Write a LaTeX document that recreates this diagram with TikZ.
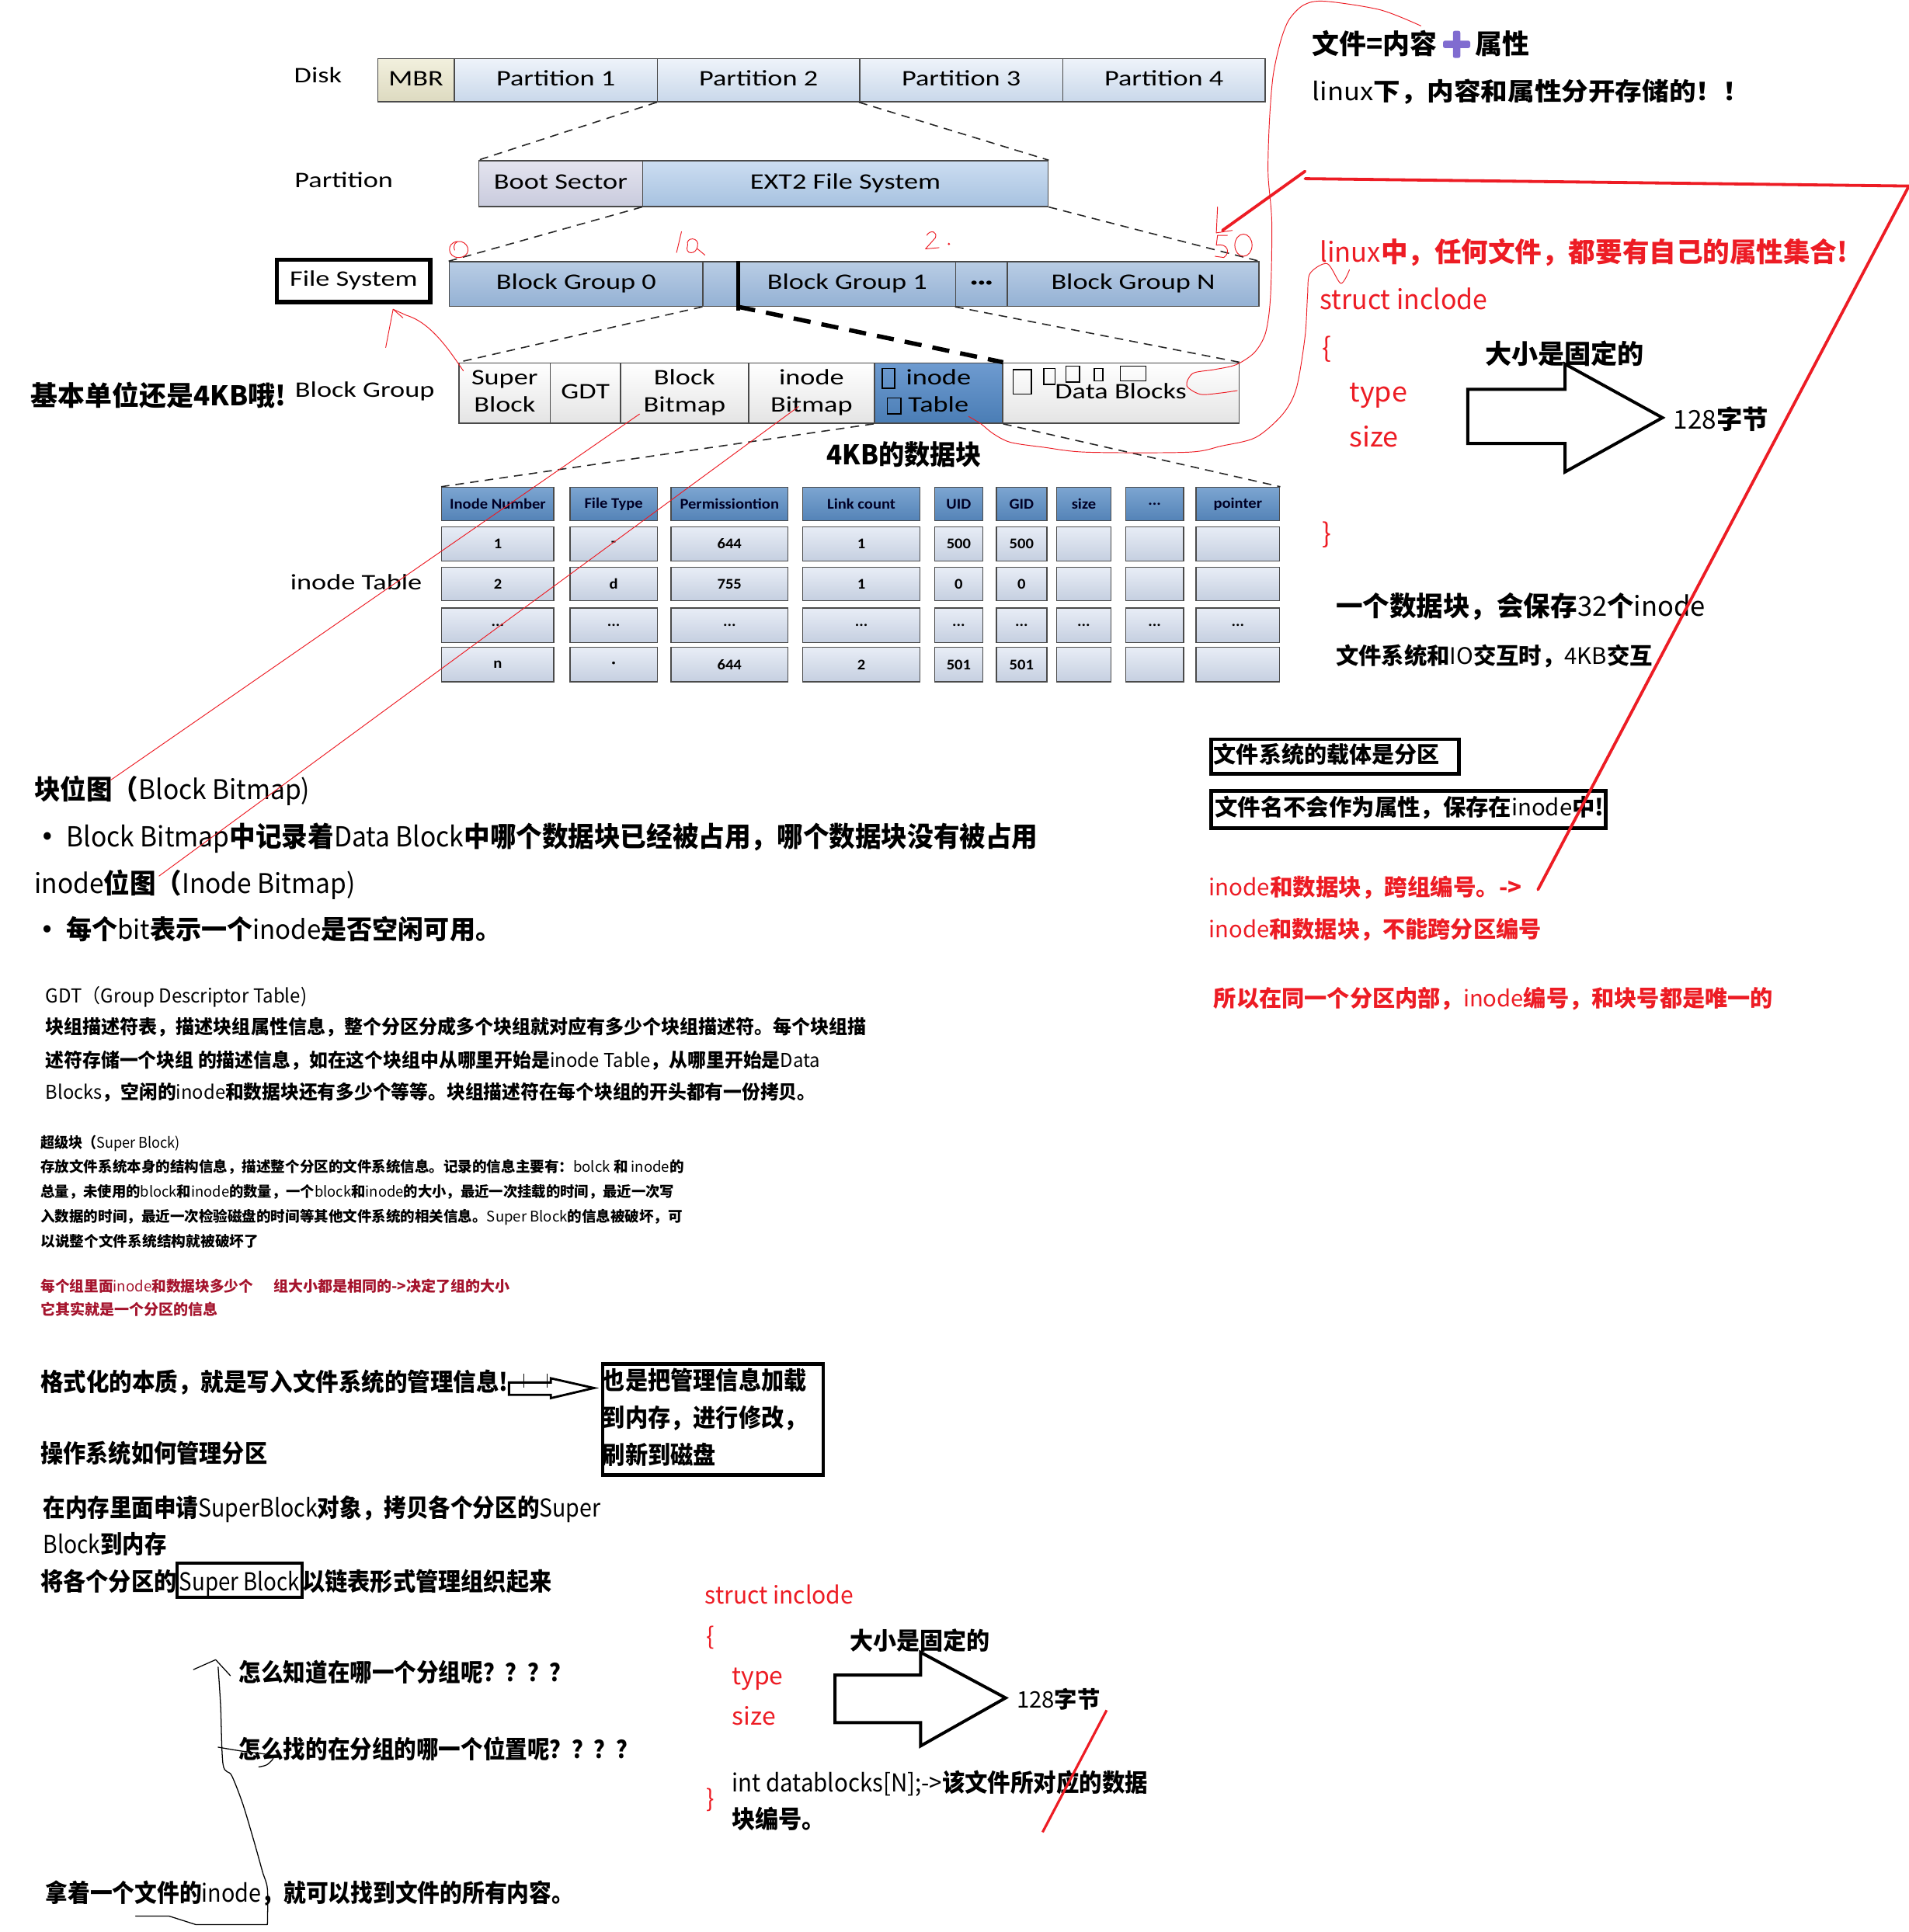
\documentclass[tikz,border=0pt]{standalone}
\usepackage{fontspec}
\usepackage{graphicx}
\setmainfont{Noto Sans CJK SC}
\newfontfamily\dg{Carlito}
\usetikzlibrary{shadings}
\definecolor{rd}{RGB}{237,28,36}
\definecolor{drd}{RGB}{165,20,45}
\definecolor{bd}{HTML}{4A4A4A}
\definecolor{dkT}{HTML}{EEF3FA}\definecolor{dkB}{HTML}{C9D8EA}
\definecolor{mbT}{HTML}{F2F0DE}\definecolor{mbB}{HTML}{DDDAC0}
\definecolor{btT}{HTML}{E4E4EF}\definecolor{btB}{HTML}{C9CBDD}
\definecolor{exT}{HTML}{CCDDF1}\definecolor{exB}{HTML}{A7C2E0}
\definecolor{bgT}{HTML}{B9CDE5}\definecolor{bgB}{HTML}{94B1D4}
\definecolor{dtT}{HTML}{FFFFFF}\definecolor{dtB}{HTML}{E4E4E4}
\definecolor{itT}{HTML}{6E9BD0}\definecolor{itB}{HTML}{4A7DB5}
\definecolor{hdT}{HTML}{7CA5D1}\definecolor{hdB}{HTML}{5483B7}
\definecolor{ceT}{HTML}{E8EDF6}\definecolor{ceB}{HTML}{C5CFE0}
\definecolor{plc}{RGB}{128,108,208}
\newcommand\Tb[3]{\scalebox{#2}[1]{\fontsize{#1}{#1}\selectfont\bfseries #3}}
\newcommand\Tr[3]{\scalebox{#2}[1]{\fontsize{#1}{#1}\selectfont #3}}
\newcommand\Lt[1]{{\mdseries #1}}
\newcommand\dgf{\dg\fontsize{18}{22}\selectfont}
\newcommand\dl[1]{\scalebox{1.27}[1]{\begin{tabular}{@{}c@{}}#1\end{tabular}}}
\newcommand\tbf{\dg\bfseries\fontsize{12}{14}\selectfont}
\newcommand\tl[1]{\scalebox{1.08}[1]{#1}}
\newcommand\dotsx{...}
\begin{document}
\begin{tikzpicture}[x=1pt,y=-1pt,
  tx/.style={anchor=base west,inner sep=0pt,outer sep=0pt},
  dbox/.style={draw=bd,line width=1pt,anchor=north west,inner sep=0pt,font=\dgf},
  dline/.style={dash pattern=on 7pt off 5pt,line width=1pt,black!85},
  hand/.style={rd,line width=0.6pt,line cap=round,line join=round},
  bigred/.style={rd,line width=2.4pt,line cap=round,line join=round},
  bhand/.style={black,line width=0.8pt,line cap=round,line join=round},
  hcell/.style={draw=bd,line width=0.9pt,anchor=north west,inner sep=0pt,top color=hdT,bottom color=hdB,font=\tbf,text=black!85!blue},
  ccell/.style={draw=bd,line width=0.9pt,anchor=north west,inner sep=0pt,top color=ceT,bottom color=ceB,font=\tbf},
  bigarrow/.style={draw=black,line width=2.5pt,line join=miter}]
\useasboundingbox (0,0) rectangle (1549,1568);
\fill[white] (0,0) rectangle (1549,1568);

% ---------- Disk row
\node[font=\dgf] (disk) at (258,63) {\dl{Disk}};
\node[dbox,top color=mbT,bottom color=mbB,minimum width=62,minimum height=35] (mbr) at (306,47) {\dl{MBR}};
\node[dbox,top color=dkT,bottom color=dkB,minimum width=165,minimum height=35] (p1) at (368,47) {\dl{Partition 1}};
\node[dbox,top color=dkT,bottom color=dkB,minimum width=164,minimum height=35] (p2) at (533,47) {\dl{Partition 2}};
\node[dbox,top color=dkT,bottom color=dkB,minimum width=165,minimum height=35] (p3) at (697,47) {\dl{Partition 3}};
\node[dbox,top color=dkT,bottom color=dkB,minimum width=164,minimum height=35] (p4) at (862,47) {\dl{Partition 4}};

% ---------- Partition row
\node[font=\dgf] (partl) at (279,148) {\dl{Partition}};
\node[dbox,top color=btT,bottom color=btB,minimum width=133,minimum height=37] (boot) at (388,130) {\dl{Boot Sector}};
\node[dbox,top color=exT,bottom color=exB,minimum width=329,minimum height=37] (ext2) at (521,130) {\dl{EXT2 File System}};
\draw[dline] (p2.south west) -- (boot.north west);
\draw[dline] (p3.south west) -- (ext2.north east);

% ---------- File system row
\node[draw=black,line width=3.5pt,minimum width=124.5,minimum height=34.5,inner sep=0pt,font=\dgf] (fs) at (287,228) {\dl{File System}};
\node[dbox,top color=bgT,bottom color=bgB,minimum width=206,minimum height=36] (bg0) at (364,212) {\dl{Block Group 0}};
\node[dbox,top color=bgT,bottom color=bgB,minimum width=29,minimum height=36] (bgap) at (570,212) {};
\node[dbox,top color=bgT,bottom color=bgB,minimum width=176,minimum height=36] (bg1) at (599,212) {\dl{Block Group 1}\hspace{31pt}};
\node[dbox,top color=bgT,bottom color=bgB,minimum width=42,minimum height=36] (bgd) at (775,212) {\dl{\bfseries ···}};
\node[dbox,top color=bgT,bottom color=bgB,minimum width=204,minimum height=36] (bgn) at (817,212) {\dl{Block Group N}};
\draw[dline] (ext2.south west) -- (bg0.north west);
\draw[dline] (ext2.south east) -- (bgn.north east);
\draw[black,line width=2.6pt] (bg1.north west) -- ([yshift=-3pt]bg1.south west);

% ---------- Block group row
\node[font=\dgf] (bgl) at (296,318) {\dl{Block Group}};
\node[dbox,top color=dtT,bottom color=dtB,minimum width=74,minimum height=49] (sb) at (372,294) {\dl{Super\\Block}};
\node[dbox,top color=dtT,bottom color=dtB,minimum width=57,minimum height=49] (gdt) at (446,294) {\dl{GDT}};
\node[dbox,top color=dtT,bottom color=dtB,minimum width=104,minimum height=49] (bbm) at (503,294) {\dl{Block\\Bitmap}};
\node[dbox,top color=dtT,bottom color=dtB,minimum width=102,minimum height=49] (ibm) at (607,294) {\dl{inode\\Bitmap}};
\node[dbox,top color=itT,bottom color=itB,minimum width=104,minimum height=49] (itab) at (709,294) {\dl{inode\\Table}};
\node[dbox,top color=dtT,bottom color=dtB,minimum width=192,minimum height=49] (data) at (813,294) {\raisebox{-4pt}{\dl{Data Blocks}}};
\draw[dline] (bgap.south west) -- (sb.north west);
\draw[dline] (bgd.south west) -- (data.north east);
\draw[black,line width=3.5pt,dash pattern=on 14pt off 9pt] (bg1.south west) -- (itab.north east);
\begin{scope}[black,line width=0.9pt]
\draw (716,299) rectangle (726,315);
\draw (720,323) rectangle (731,336);
\draw (822,300) rectangle (837,320);
\draw (847,299) rectangle (856,312);
\draw (865,297) rectangle (876,310);
\draw (888,299) rectangle (895,309);
\draw (909,297) rectangle (930,309);
\end{scope}
\node[tx] (kb4) at (671,377) {\Tb{22}{0.95}{4KB的数据块}};

% ---------- inode table
\node[font=\dgf] (itl) at (289,474) {\dl{inode Table}};
\foreach[count=\i] \x/\w/\t in {358/91/Inode Number,462/71/File Type,544/95/Permissiontion,651/95/Link count,758/39/UID,808/41/GID,857/44/size,913/47/\dotsx,970/68/pointer}
  {\node[hcell,minimum width=\w,minimum height=27] (h\i) at (\x,395) {\tl{\t}};}
\foreach[count=\i] \x/\w/\t in {358/91/1,462/71/-,544/95/644,651/95/1,758/39/500,808/41/500,857/44/,913/47/,970/68/}
  {\node[ccell,minimum width=\w,minimum height=28] (ra\i) at (\x,427) {\tl{\t}};}
\foreach[count=\i] \x/\w/\t in {358/91/2,462/71/d,544/95/755,651/95/1,758/39/0,808/41/0,857/44/,913/47/,970/68/}
  {\node[ccell,minimum width=\w,minimum height=27] (rb\i) at (\x,460) {\tl{\t}};}
\foreach[count=\i] \x/\w in {358/91,462/71,544/95,651/95,758/39,808/41,857/44,913/47,970/68}
  {\node[ccell,minimum width=\w,minimum height=28] (rc\i) at (\x,493) {\tl{\dotsx}};}
\foreach[count=\i] \x/\w/\t in {358/91/n,462/71/·,544/95/644,651/95/2,758/39/501,808/41/501,857/44/,913/47/,970/68/}
  {\node[ccell,minimum width=\w,minimum height=28] (rd\i) at (\x,525) {\tl{\t}};}
\draw[dline] (itab.south west) -- (h1.north west);
\draw[dline] (itab.south east) -- (h9.north east);

% ---------- left texts
\node[tx] (l1) at (25,329) {\Tb{22}{1}{基本单位还是4KB哦!}};
\node[tx] (l2) at (28,649) {\Tb{22}{0.96}{块位图（\Lt{Block Bitmap)}}};
\node[tx] (l3) at (28,687) {\Tb{22.4}{0.945}{• \Lt{Block Bitmap}中记录着\Lt{Data Block}中哪个数据块已经被占用，哪个数据块没有被占用}};
\node[tx] (l4) at (28,725) {\Tb{22}{0.96}{\Lt{inode}位图（\Lt{Inode Bitmap)}}};
\node[tx] (l5) at (28,762) {\Tb{21.4}{0.974}{• 每个\Lt{bit}表示一个\Lt{inode}是否空闲可用。}};
\node[tx] (g0) at (37,814) {\Tr{15.6}{0.97}{GDT（Group Descriptor Table)}};
\node[tx] (g1) at (37,839) {\Tb{15.5}{0.977}{块组描述符表，描述块组属性信息，整个分区分成多个块组就对应有多少个块组描述符。每个块组描}};
\node[tx] (g2) at (37,866) {\Tb{15.5}{0.97}{述符存储一个块组 的描述信息，如在这个块组中从哪里开始是\Lt{inode Table}，从哪里开始是\Lt{Data}}};
\node[tx] (g3) at (37,892) {\Tb{15.5}{0.966}{\Lt{Blocks}，空闲的\Lt{inode}和数据块还有多少个等等。块组描述符在每个块组的开头都有一份拷贝。}};
\node[tx] (s0) at (33,931.5) {\Tb{12}{0.95}{超级块（\Lt{Super Block)}}};
\node[tx] (s1) at (33,951.5) {\Tb{11.8}{0.99}{存放文件系统本身的结构信息，描述整个分区的文件系统信息。记录的信息主要有：\Lt{bolck} 和 \Lt{inode}的}};
\node[tx] (s2) at (33,971.5) {\Tb{11.8}{0.98}{总量，未使用的\Lt{block}和\Lt{inode}的数量，一个\Lt{block}和\Lt{inode}的大小，最近一次挂载的时间，最近一次写}};
\node[tx] (s3) at (33,991.5) {\Tb{11.8}{0.99}{入数据的时间，最近一次检验磁盘的时间等其他文件系统的相关信息。\Lt{Super Block}的信息被破坏，可}};
\node[tx] (s4) at (33,1011.5) {\Tb{11.8}{1}{以说整个文件系统结构就被破坏了}};
\node[tx,text=drd] (d1) at (33,1048.5) {\Tb{12}{0.98}{每个组里面\Lt{inode}和数据块多少个}};
\node[tx,text=drd] (d2) at (222,1048.5) {\Tb{12}{1}{组大小都是相同的->决定了组的大小}};
\node[tx,text=drd] (d3) at (33,1067.5) {\Tb{12}{1}{它其实就是一个分区的信息}};
\node[tx] (f1) at (33,1129) {\Tb{20}{0.93}{格式化的本质，就是写入文件系统的管理信息!}};
\node[draw=black,line width=3pt,anchor=north west,minimum width=179,minimum height=90,inner sep=0pt] (bx3) at (487.5,1105.5) {};
\node[tx] (b1) at (489,1128) {\Tb{20}{0.92}{也是把管理信息加载}};
\node[tx] (b2) at (489,1158) {\Tb{20}{0.92}{到内存，进行修改，}};
\node[tx] (b3) at (489,1188) {\Tb{20}{0.92}{刷新到磁盘}};
\coordinate (sa1) at (413,1122);
\draw[black,line width=1.8pt] (sa1) -- (447,1122) -- (447,1118.6) -- (482,1126.5) -- (447,1134.7) -- (447,1132) -- (413,1132) -- cycle;
\draw[black,line width=1pt] (425,1115) -- (425,1126) (444,1115) -- (444,1126);
\node[tx] (o1) at (33,1187) {\Tb{20}{0.92}{操作系统如何管理分区}};
\node[tx] (o2) at (35,1231) {\Tb{20}{0.90}{在内存里面申请\Lt{SuperBlock}对象，拷贝各个分区的\Lt{Super}}};
\node[tx] (o3) at (35,1261) {\Tb{20}{0.893}{\Lt{Block}到内存}};
\node[tx] (o4a) at (33,1291) {\Tb{20}{0.92}{将各个分区的}};
\node[anchor=base west,draw=black,line width=2.5pt,inner xsep=2pt,inner ysep=2.5pt,text height=20pt,text depth=3pt,outer sep=0pt] (o4b) at (o4a.base east) {\Tr{20}{0.875}{Super Block}};
\node[tx] (o4c) at (o4b.base east) {\Tb{20}{0.92}{以链表形式管理组织起来}};

% ---------- bottom struct
\node[tx,text=rd] (q1) at (572,1302) {\Tr{19.5}{0.97}{struct inclode}};
\node[tx,text=rd] (qb1) at (573,1335) {\Tr{19.5}{1}{\{}};
\node[tx,text=rd] (qt) at (594,1367) {\Tr{19.5}{1.03}{type}};
\node[tx,text=rd] (qs) at (594,1400) {\Tr{19.5}{1.03}{size}};
\node[tx,text=rd] (qb2) at (573,1467) {\Tr{19.5}{1}{\}}};
\draw[bigarrow] (677.5,1359.5) -- (747,1359.5) -- (747,1341) -- (816,1378) -- (747,1417) -- (747,1398) -- (677.5,1398) -- cycle;
\node[tx] (q5) at (690,1339) {\Tb{19.5}{0.97}{大小是固定的}};
\node[tx] (q6) at (825,1386) {\Tb{18.5}{1}{\Lt{128}字节}};
\node[tx] (q7) at (594,1454) {\Tr{20}{0.928}{int datablocks[N];->}\Tb{20}{0.928}{该文件所对应的数据}};
\node[tx] (q8) at (594,1484) {\Tb{20}{0.95}{块编号。}};
\node[tx] (w1) at (194,1365) {\Tb{20}{0.9}{怎么知道在哪一个分组呢？？？？}};
\node[tx] (w2) at (194,1427) {\Tb{20}{0.9}{怎么找的在分组的哪一个位置呢？？？？}};
\node[tx] (w3) at (37,1544) {\Tb{20}{0.906}{拿着一个文件的\Lt{inode}，就可以找到文件的所有内容。}};

% ---------- right column
\node[tx] (t1) at (1065,44) {\Tb{22}{1}{文件=内容}};
\fill[plc,rounded corners=1.5pt] (1171,33) rectangle (1193,39);
\fill[plc,rounded corners=1.5pt] (1179,25) rectangle (1185,47);
\node[tx] (t1b) at (1197,44) {\Tb{22}{1}{属性}};
\node[tx] (t2) at (1065,81.5) {\Tb{20}{1.09}{\Lt{linux}下，内容和属性分开存储的！！}};
\node[tx,text=rd] (t3) at (1071,213) {\Tb{22}{0.99}{\Lt{linux}中，任何文件，都要有自己的属性集合!}};
\node[tx,text=rd] (t4) at (1071,251) {\Tr{22}{0.97}{struct inclode}};
\node[tx,text=rd] (br1) at (1073,290) {\Tr{22}{1}{\{}};
\node[tx,text=rd] (ty1) at (1095,326) {\Tr{22}{1.03}{type}};
\node[tx,text=rd] (sz1) at (1095,363) {\Tr{22}{1.03}{size}};
\node[tx,text=rd] (br2) at (1073,441) {\Tr{22}{1}{\}}};
\draw[bigarrow] (1191,316) -- (1270,316) -- (1270,295.5) -- (1349,339) -- (1270,383) -- (1270,360) -- (1191,360) -- cycle;
\node[tx] (t5) at (1205,295) {\Tb{21.5}{1}{大小是固定的}};
\node[tx] (t6) at (1358,348) {\Tb{21}{1}{\Lt{128}字节}};
\node[tx] (t7) at (1084,500) {\Tb{22}{0.99}{一个数据块，会保存\Lt{32}个\Lt{inode}}};
\node[tx] (t8) at (1084,539) {\Tb{18.5}{1}{文件系统和\Lt{IO}交互时，\Lt{4KB}交互}};
\node[draw=black,line width=3pt,anchor=north west,minimum width=201,minimum height=28,inner sep=0pt] (bx1) at (981.5,598.5) {};
\node[tx] (t9) at (985,619) {\Tb{18.3}{1}{文件系统的载体是分区}};
\node[draw=black,line width=3pt,anchor=north west,minimum width=320,minimum height=30,inner sep=0pt] (bx2) at (981.5,640.5) {};
\node[tx] (t10) at (986,662) {\Tb{18.5}{1}{文件名不会作为属性，保存在\Lt{inode}中!}};
\node[tx,text=rd] (t11) at (981,727) {\Tb{18.6}{1}{\Lt{inode}和数据块，跨组编号。->}};
\node[tx,text=rd] (t12) at (981,761) {\Tb{18.4}{1}{\Lt{inode}和数据块，不能跨分区编号}};
\node[tx,text=rd] (t13) at (985,817) {\Tb{18.4}{1}{所以在同一个分区内部，\Lt{inode}编号，和块号都是唯一的}};

% ---------- red annotations
\coordinate (ra1) at (519,336); \coordinate (ra2) at (90,633);
\coordinate (rb1) at (648,330); \coordinate (rb2) at (129,711);
\draw[hand] (ra1) -- (ra2);
\draw[hand] (rb1) -- (rb2);
\draw[hand] plot[smooth] coordinates {(1153,21) (1120,8) (1075,1) (1058,4) (1046,16) (1039,34) (1033,62) (1030,100) (1029,141) (1032,180) (1031,240) (1027,270) (1018,286) (1003,296) (985,300) (968,303) (963,313) (974,320) (990,319) (1004,317)};
\draw[hand] plot[smooth] coordinates {(1095,219) (1088,230) (1077,214) (1063,222) (1061,240) (1059,273) (1052,315) (1041,336) (1019,355) (991,362) (964,367) (882,367) (847,363) (820,359) (806,352) (796,344) (786,338)};
\draw[hand] (376,301) .. controls (365,285) and (350,262) .. (330,256) -- (319,251) -- (313,282);
\draw[hand] (319,251) -- (327,258);
% handwritten marks
\draw[hand] (371,196) .. controls (362,197) and (363,209) .. (372,209) .. controls (382,209) and (382,198) .. (374,196) .. controls (370,195) and (367,199) .. (369,203);
\draw[hand] (553,188) -- (549,205);
\draw[hand] (558,199) .. controls (556,192) and (568,192) .. (566,200) .. controls (565,207) and (555,207) .. (558,199) (566,202) -- (572,207);
\draw[hand] (752,191) .. controls (755,186) and (761,188) .. (759,193) -- (751,202) -- (762,201);
\fill[rd] (770,198) circle (1pt);
\draw[hand] (988,168) -- (987,189) -- (1000,187);
\draw[hand] (996,191) -- (988,191) -- (987,199) .. controls (996,197) and (999,205) .. (993,209) -- (986,208);
\draw[hand] (1009,199) ellipse (7 and 9);
% thick red lines
\coordinate (rk1) at (1059,139); \coordinate (rk2) at (992,187);
\draw[bigred] (rk1) -- (rk2);
\coordinate (rp1) at (1059,145); \coordinate (rp2) at (1549,151); \coordinate (rp3) at (1248,722);
\draw[bigred] (rp1) -- (rp2) -- (rp3);
\coordinate (rq1) at (898,1388); \coordinate (rq2) at (846,1487);
\draw[rd,line width=2pt] (rq1) -- (rq2);

% ---------- black hand-drawn arrow
\draw[bhand] plot[smooth] coordinates {(177,1353) (179,1384) (181,1432) (188,1441) (197,1464) (206,1494) (213,1519) (217,1533) (217,1562)} -- (159,1562) -- (137,1555) -- (110,1555);
\draw[bhand] (157,1355) -- (175,1347) -- (187,1360);
\draw[bhand] plot[smooth] coordinates {(177,1418) (195,1421) (221,1425) (217,1432) (210,1434)};
\end{tikzpicture}
\end{document}
